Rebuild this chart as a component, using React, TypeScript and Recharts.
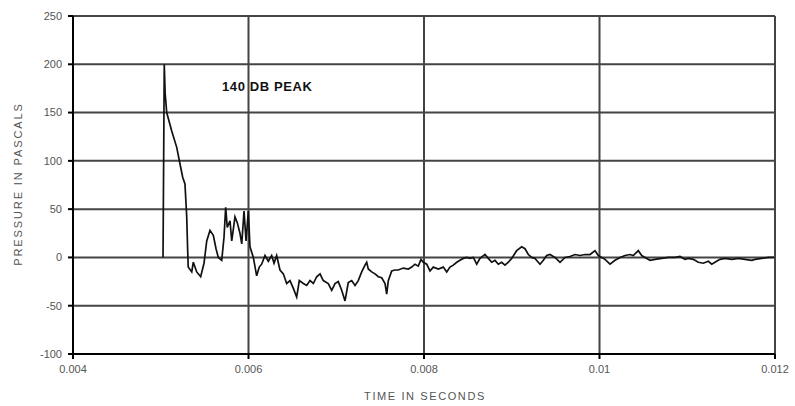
import React from 'react';
import { LineChart, Line, XAxis, YAxis, CartesianGrid } from 'recharts';

// time in milliseconds (axis shows seconds)
const timeMs = [
  5.026, 5.027, 5.04, 5.05, 5.068, 5.125, 5.182, 5.219, 5.25, 5.276, 5.296, 5.307, 5.313,
  5.353, 5.371, 5.41, 5.455, 5.493, 5.524, 5.561, 5.599, 5.63, 5.656, 5.695, 5.721, 5.74,
  5.758, 5.789, 5.809, 5.846, 5.872, 5.903, 5.923, 5.949, 5.972, 5.998, 6.017, 6.055, 6.093,
  6.123, 6.15, 6.188, 6.226, 6.264, 6.291, 6.321, 6.359, 6.397, 6.435, 6.473, 6.511, 6.549,
  6.579, 6.625, 6.663, 6.701, 6.739, 6.777, 6.815, 6.852, 6.909, 6.948, 6.986, 7.023, 7.062,
  7.1, 7.137, 7.176, 7.214, 7.251, 7.29, 7.328, 7.347, 7.365, 7.404, 7.442, 7.479, 7.518,
  7.556, 7.575, 7.593, 7.632, 7.67, 7.707, 7.764, 7.821, 7.86, 7.897, 7.935, 7.966, 7.992,
  8.031, 8.068, 8.106, 8.163, 8.22, 8.259, 8.296, 8.334, 8.373, 8.41, 8.448, 8.487, 8.524,
  8.562, 8.601, 8.638, 8.695, 8.733, 8.772, 8.809, 8.847, 8.885, 8.923, 8.961, 8.999, 9.056,
  9.113, 9.151, 9.189, 9.227, 9.265, 9.322, 9.36, 9.398, 9.436, 9.493, 9.55, 9.607, 9.664,
  9.721, 9.778, 9.835, 9.892, 9.949, 9.986, 10.025, 10.063, 10.12, 10.177, 10.234, 10.291,
  10.348, 10.385, 10.442, 10.481, 10.519, 10.576, 10.632, 10.709, 10.784, 10.86, 10.917,
  10.974, 11.012, 11.069, 11.126, 11.183, 11.24, 11.279, 11.316, 11.373, 11.43, 11.507,
  11.582, 11.658, 11.735, 11.772, 11.848, 11.924, 11.99,
];
const pressure = [
  0, 16, 200, 170, 150, 131, 114, 97, 83, 76, 42, 7, -10,
  -15, -5, -15, -20, -6, 17, 28, 23, 9, 0, -3, 21, 52,
  31, 38, 17, 42, 36, 25, 14, 48, 17, 48, 11, 0, -19,
  -10, -7, 2, -4, 2, -6, 2, -13, -17, -27, -24, -32, -41,
  -24, -27, -29, -24, -27, -20, -17, -24, -27, -34, -27, -25, -34,
  -45, -26, -24, -29, -24, -15, -8, -5, -12, -15, -17, -20, -21,
  -27, -38, -24, -14, -13, -13, -11, -12, -10, -7, -9, -2, -5,
  -7, -14, -10, -12, -10, -15, -10, -8, -5, -3, -1, 0, -1,
  0, -7, -1, 3, -1, -5, -3, -7, -5, -8, -5, -1, 7,
  11, 9, 3, 0, -1, -7, -3, 2, 3, 0, -5, 0, 1,
  3, 2, 3, 3, 7, 2, 0, -2, -7, -3, 0, 2,
  3, 2, 7, 2, 0, -3, -2, -1, 0, 0, 1,
  -2, -1, -2, -5, -6, -4, -7, -5, -2, -1, -2,
  -1, -2, -3, -2, -1, 0, 0,
];
const xTicks = [4, 6, 8, 10, 12];
const yTicks = [-100, -50, 0, 50, 100, 150, 200, 250];

const data = timeMs.map((t, i) => ({ t, p: pressure[i] }));

const font = '"Liberation Sans", Arial, sans-serif';

export default function App() {
  return (
    <div style={{ position: 'absolute', left: 0, top: 0, width: 795, height: 406, background: '#fff' }}>
      <LineChart width={795} height={406} data={data} margin={{ top: 16, right: 20, bottom: 22, left: 13 }}>
        <CartesianGrid stroke="#444" strokeWidth={2} />
        <XAxis
          dataKey="t"
          type="number"
          domain={[4, 12]}
          ticks={xTicks}
          height={30}
          tickFormatter={(v: number) => String(v / 1000)}
          stroke="#000"
          strokeWidth={2}
          tickSize={5}
          tickMargin={6}
          tick={{ fill: '#555', fontSize: 11, fontFamily: font }}
        />
        <YAxis
          type="number"
          domain={[-100, 250]}
          ticks={yTicks}
          width={60}
          stroke="#000"
          strokeWidth={2}
          tickSize={5}
          tickMargin={6}
          tick={{ fill: '#555', fontSize: 11, fontFamily: font }}
        />
        <Line type="linear" dataKey="p" stroke="#111" strokeWidth={1.7} dot={false} isAnimationActive={false} />
      </LineChart>
      <div style={{ position: 'absolute', left: 222, top: 79, fontFamily: font, fontSize: 13, fontWeight: 'bold', color: '#111', letterSpacing: 0.6, whiteSpace: 'nowrap' }}>
        140 DB PEAK
      </div>
      <div style={{ position: 'absolute', left: 345, top: 390, width: 160, textAlign: 'center', fontFamily: font, fontSize: 11, color: '#555', letterSpacing: 1.6, whiteSpace: 'nowrap' }}>
        TIME IN SECONDS
      </div>
      <div style={{ position: 'absolute', left: 18, top: 185, width: 0, height: 0 }}>
        <div style={{ position: 'absolute', left: -100, top: -7, width: 200, textAlign: 'center', transform: 'rotate(-90deg)', fontFamily: font, fontSize: 11, color: '#555', letterSpacing: 1.9, whiteSpace: 'nowrap' }}>
          PRESSURE IN PASCALS
        </div>
      </div>
    </div>
  );
}
